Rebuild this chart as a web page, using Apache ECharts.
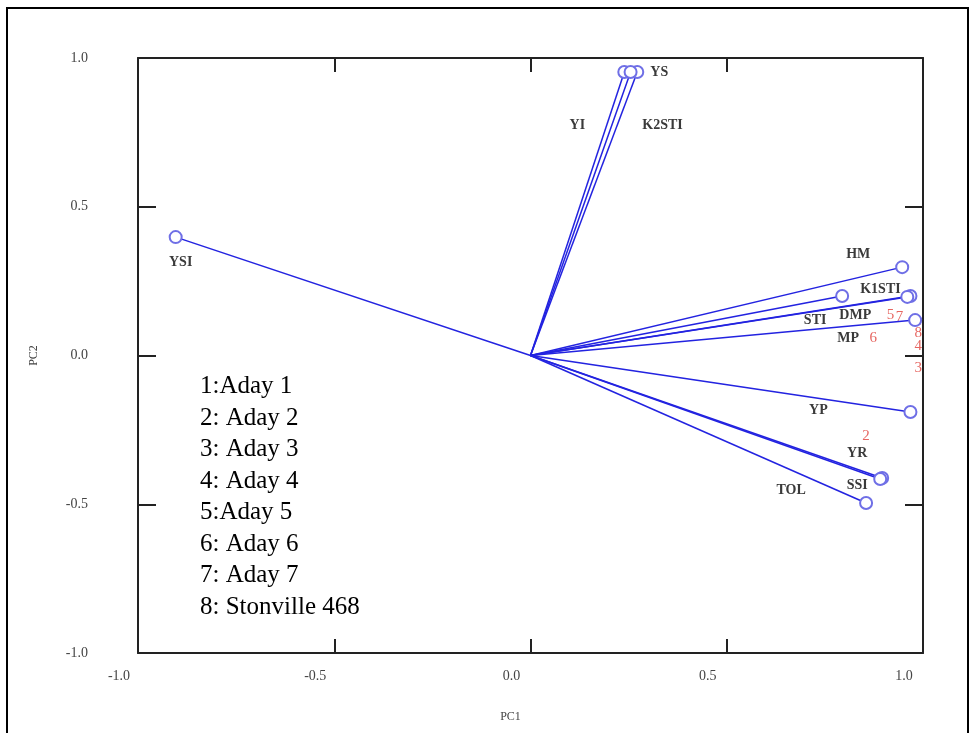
<!DOCTYPE html>
<html>
<head>
<meta charset="utf-8">
<script src="https://cdn.jsdelivr.net/npm/echarts@6/dist/echarts.min.js"></script>
<style>
  html, body { margin: 0; padding: 0; background: #fff; }
  #chart { width: 976px; height: 733px; }
</style>
</head>
<body>
<div id="chart"></div>
<script>
// variable loadings (vector end points)
const varNames = ['YS', 'YI', 'K2STI', 'YSI', 'HM', 'K1STI', 'DMP', 'STI', 'MP', 'YP', 'YR', 'SSI', 'TOL'];
const varPC1 = [0.272, 0.239, 0.255, -0.904, 0.947, 0.968, 0.960, 0.794, 0.980, 0.968, 0.896, 0.891, 0.855];
const varPC2 = [0.953, 0.953, 0.953, 0.398, 0.297, 0.200, 0.197, 0.200, 0.119, -0.190, -0.412, -0.415, -0.496];

// genotype scores
const genoIds = ['5', '7', '1', '8', '4', '3', '6', '2'];
const genoPC1 = [0.917, 0.940, 0.988, 0.988, 0.988, 0.988, 0.873, 0.855];
const genoPC2 = [0.136, 0.129, 0.116, 0.076, 0.032, -0.042, 0.059, -0.271];

const legendLines = ['1:Aday 1', '2: Aday 2', '3: Aday 3', '4: Aday 4', '5:Aday 5', '6: Aday 6', '7: Aday 7', '8: Stonville 468'];

// label placement for the vector names, px offsets from circle
const labelOffsets = {
  YS: [22, 0], YI: [-47, 53], K2STI: [32, 53], YSI: [5, 25], HM: [-44, -13],
  K1STI: [-30, -7], DMP: [-52, 18], STI: [-27, 24], MP: [-67, 18],
  YP: [-92, -2], YR: [-25, -25], SSI: [-23, 6], TOL: [-75, -13]
};

const serif = 'Liberation Serif';
const chart = echarts.init(document.getElementById('chart'));

const series = [];
varNames.forEach((name, i) => {
  series.push({
    type: 'line',
    name: name,
    data: [
      { value: [0, 0], symbol: 'none' },
      {
        value: [varPC1[i], varPC2[i]],
        symbol: 'emptyCircle',
        label: {
          show: true,
          formatter: name,
          position: 'inside',
          offset: labelOffsets[name],
          color: '#3a3a3a',
          fontFamily: serif,
          fontSize: 14,
          fontWeight: 'bold'
        }
      }
    ],
    symbolSize: 12,
    showSymbol: true,
    lineStyle: { color: '#2323e0', width: 1.5 },
    itemStyle: { color: '#6f6fe6', borderWidth: 1.2 },
    silent: true,
    animation: false
  });
});

series.push({
  type: 'scatter',
  data: genoIds.map((id, i) => ({ value: [genoPC1[i], genoPC2[i]], name: id })),
  symbolSize: 1,
  itemStyle: { color: 'transparent' },
  label: {
    show: true,
    position: 'inside',
    formatter: (p) => p.name,
    color: '#e0403a',
    fontFamily: serif,
    fontSize: 15
  },
  animation: false
});

const tickLabel = {
  fontFamily: serif,
  fontSize: 14,
  color: '#444',
  formatter: (v) => v.toFixed(1)
};
const frameLine = { show: true, onZero: false, lineStyle: { color: '#222', width: 2 } };

const option = {
  backgroundColor: '#fff',
  grid: { left: 138, right: 53, top: 58, bottom: 80 },
  xAxis: [
    {
      type: 'value', min: -1, max: 1, interval: 0.5, position: 'bottom',
      name: 'PC1', nameLocation: 'middle', nameGap: 58,
      nameTextStyle: { fontFamily: serif, fontSize: 12, color: '#444', padding: [0, 40, 0, 0] },
      axisLine: frameLine,
      axisTick: { show: true, inside: true, length: 14, lineStyle: { color: '#222', width: 2 } },
      axisLabel: Object.assign({ margin: 16, padding: [0, 38, 0, 0] }, tickLabel),
      splitLine: { show: false }
    },
    {
      type: 'value', min: -1, max: 1, interval: 0.5, position: 'top',
      axisLine: frameLine,
      axisTick: { show: true, inside: true, length: 14, lineStyle: { color: '#222', width: 2 } },
      axisLabel: { show: false },
      splitLine: { show: false }
    }
  ],
  yAxis: [
    {
      type: 'value', min: -1, max: 1, interval: 0.5, position: 'left',
      name: 'PC2', nameLocation: 'middle', nameGap: 98, nameRotate: 90,
      nameTextStyle: { fontFamily: serif, fontSize: 12, color: '#444' },
      axisLine: frameLine,
      axisTick: { show: true, inside: true, length: 18, lineStyle: { color: '#222', width: 2 } },
      axisLabel: Object.assign({ margin: 50, padding: [0, 0, 20, 0] }, tickLabel),
      splitLine: { show: false }
    },
    {
      type: 'value', min: -1, max: 1, interval: 0.5, position: 'right',
      axisLine: frameLine,
      axisTick: { show: true, inside: true, length: 18, lineStyle: { color: '#222', width: 2 } },
      axisLabel: { show: false },
      splitLine: { show: false }
    }
  ],
  graphic: [
    {
      type: 'rect',
      shape: { x: 7, y: 8, width: 961, height: 740 },
      style: { fill: 'none', stroke: '#000', lineWidth: 2 },
      silent: true
    },
    {
      type: 'text',
      left: 200,
      top: 371,
      style: {
        text: legendLines.join('\n'),
        font: '25px "Liberation Serif"',
        lineHeight: 31.5,
        fill: '#000'
      }
    }
  ],
  series: series
};

chart.setOption(option);
</script>
</body>
</html>
